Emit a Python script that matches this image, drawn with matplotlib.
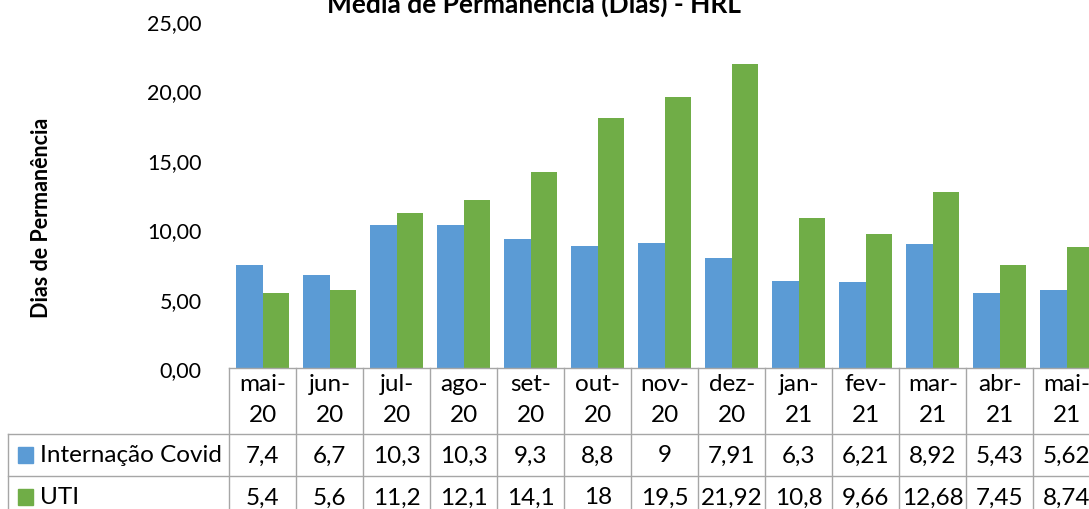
import matplotlib
matplotlib.use("Agg")
import matplotlib.pyplot as plt
import numpy as np

plt.rcParams["font.family"] = ["Lato", "DejaVu Sans"]

months = ["mai-\n20", "jun-\n20", "jul-\n20", "ago-\n20", "set-\n20", "out-\n20",
          "nov-\n20", "dez-\n20", "jan-\n21", "fev-\n21", "mar-\n21", "abr-\n21",
          "mai-\n21"]
internacao = [7.4, 6.7, 10.3, 10.3, 9.3, 8.8, 9, 7.91, 6.3, 6.21, 8.92, 5.43, 5.62]
uti = [5.4, 5.6, 11.2, 12.1, 14.1, 18, 19.5, 21.92, 10.8, 9.66, 12.68, 7.45, 8.74]
series_names = ["Internação Covid", "UTI"]
yticks = [0, 5, 10, 15, 20, 25]

BLUE = "#5B9BD5"
GREEN = "#70AD47"
GRID = "#A6A6A6"
FS = 17.5

W, H = 1089, 510
fig = plt.figure(figsize=(W / 100, H / 100), dpi=100)

ax_left, ax_right = 229.3, 1100.3
ax_top, ax_bottom = 22.0, 369.0
tab_left = 8.0

ax = fig.add_axes([ax_left / W, 1 - ax_bottom / H,
                   (ax_right - ax_left) / W, (ax_bottom - ax_top) / H])

n = len(months)
x = np.arange(n)
bw = 0.396
ax.bar(x - bw / 2, internacao, bw, color=BLUE, zorder=2)
ax.bar(x + bw / 2, uti, bw, color=GREEN, zorder=2)

ax.set_xlim(-0.5, n - 0.5)
ax.set_ylim(0, 25)
ax.set_yticks(yticks)
ax.set_yticklabels([f"{v:.2f}".replace(".", ",") for v in yticks], fontsize=15.5)
ax.tick_params(axis="y", length=0, pad=20)
ax.set_xticks([])
for s in ax.spines.values():
    s.set_visible(False)

fig.text(41 / W, 1 - 218 / H, "Dias de Permanência", rotation=90,
         ha="center", va="center", fontsize=15.5, fontweight="bold")

fig.text(534 / W, 1 - 13 / H, "Média de Permanência (Dias) - HRL",
         ha="center", va="baseline", fontsize=19, fontweight="bold")

# data table below the plot
cell = (ax_right - ax_left) / n
leg_w = (ax_left - tab_left) / cell
tax = fig.add_axes([tab_left / W, 0, (ax_right - tab_left) / W, (H - ax_bottom) / H])
tax.set_xlim(-0.5 - leg_w, n - 0.5)
tax.set_ylim(H - ax_bottom, 0)
tax.axis("off")

hdr, rh = 66, 42
rows_y = [0, hdr, hdr + rh, hdr + 2 * rh]
lw = 1.0
# horizontal lines
tax.plot([-0.5, n - 0.5], [0, 0], color=GRID, lw=lw, clip_on=False)
for yy in rows_y[1:]:
    tax.plot([-0.5 - leg_w, n - 0.5], [yy, yy], color=GRID, lw=lw, clip_on=False)
# vertical lines
for k in range(n + 1):
    tax.plot([k - 0.5, k - 0.5], [0, rows_y[-1]], color=GRID, lw=lw, clip_on=False)
tax.plot([-0.5 - leg_w] * 2, [hdr, rows_y[-1]], color=GRID, lw=lw, clip_on=False)

fmt = lambda v: (f"{v:g}").replace(".", ",")
for i, m in enumerate(months):
    a, b = m.split("\n")
    tax.text(i, 16, a, ha="center", va="center", fontsize=FS, clip_on=False)
    tax.text(i, 47, b, ha="center", va="center", fontsize=FS, clip_on=False)
    tax.text(i, hdr + rh / 2, fmt(internacao[i]), ha="center", va="center",
             fontsize=FS, clip_on=False)
    tax.text(i, hdr + rh * 1.5, fmt(uti[i]), ha="center", va="center",
             fontsize=FS, clip_on=False)

sq = 15.6 / cell
for j, (name, col) in enumerate(zip(series_names, [BLUE, GREEN])):
    yc = hdr + rh * (j + 0.5)
    x0 = -0.5 - leg_w + (17.7 - tab_left) / cell
    tax.add_patch(plt.Rectangle((x0, yc - 7.8), sq, 15.6, color=col, clip_on=False))
    tax.text(-0.5 - leg_w + (40 - tab_left) / cell, yc, name, ha="left", va="center",
             fontsize=FS, clip_on=False)

fig.savefig("out.png", dpi=100)
